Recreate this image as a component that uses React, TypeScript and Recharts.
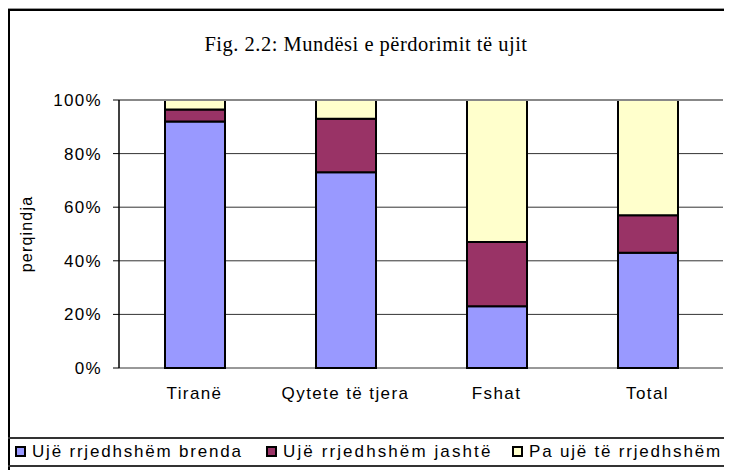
import React from 'react';
import { BarChart, Bar, XAxis, YAxis, CartesianGrid, Legend, ReferenceLine } from 'recharts';

const categories = ['Tiranë', 'Qytete të tjera', 'Fshat', 'Total'];
const inside = [92, 73, 23, 43];
const outside = [4.5, 20, 24, 14];
const none = [3.5, 7, 53, 43];
const yTicks = [0, 20, 40, 60, 80, 100];
const seriesKeys = ['brenda', 'jashte', 'pa'];
const seriesNames = ['Ujë rrjedhshëm brenda', 'Ujë rrjedhshëm jashtë', 'Pa ujë të rrjedhshëm'];
const seriesColors = ['#9999FF', '#993366', '#FFFFCC'];
const title = 'Fig. 2.2: Mundësi e përdorimit të ujit';
const yLabel = 'perqindja';

const data = categories.map((name, i) => ({
  name,
  brenda: inside[i],
  jashte: outside[i],
  pa: none[i],
}));

const sans = '"Liberation Sans", Arial, sans-serif';
const legendLefts = [7, 258, 504];
const legendSpacing = [1.8, 2.1, 1.8];

const LegendBox = () => {
  return (
    <div
      style={{
        position: 'relative',
        boxSizing: 'border-box',
        width: 718,
        height: 30,
        borderTop: '2px solid #333',
        borderRight: '2px solid #333',
        borderBottom: '2px solid #333',
        fontFamily: sans,
        fontSize: 17,
        color: '#000',
      }}
    >
      {seriesNames.map((name, i) => (
        <div key={i} style={{ position: 'absolute', left: legendLefts[i], top: 3, whiteSpace: 'nowrap', display: 'flex', alignItems: 'center', lineHeight: '19px', letterSpacing: legendSpacing[i] }}>
          <span
            style={{
              display: 'inline-block',
              boxSizing: 'border-box',
              width: 11,
              height: 11,
              background: seriesColors[i],
              border: '2px solid #000',
              marginRight: 6,
            }}
          />
          <span>{name}</span>
        </div>
      ))}
    </div>
  );
};

export default function App() {
  return (
    <div style={{ position: 'relative', width: 724, height: 462, overflow: 'hidden', background: '#fff' }}>
      <div
        style={{
          position: 'absolute',
          left: 0,
          top: 1,
          width: 900,
          height: 900,
          borderTop: '2px solid #000',
          borderLeft: '2px solid #000',
          boxShadow: '-1px -1px 0 #999',
        }}
      />
      <div
        style={{
          position: 'absolute',
          left: 0,
          width: 716,
          top: 25,
          textAlign: 'center',
          fontFamily: '"Liberation Serif", "Times New Roman", serif',
          fontSize: 20.5,
          letterSpacing: 0.5,
          color: '#000',
        }}
      >
        {title}
      </div>
      <BarChart
        width={724}
        height={462}
        data={data}
        margin={{ top: 92, right: 9, bottom: 72, left: 5 }}
        barSize={60}
        style={{ position: 'absolute', left: 0, top: 0 }}
      >
        <CartesianGrid xAxisId="cat" vertical={false} stroke="#333" strokeWidth={1} />
        <XAxis
          xAxisId="num"
          type="number"
          domain={[0, 4]}
          ticks={[0, 1, 2, 3, 4]}
          tick={false}
          tickSize={5}
          height={0}
          allowDataOverflow
          axisLine={{ stroke: '#000', strokeWidth: 1.5 }}
          tickLine={{ stroke: '#000' }}
        />
        <XAxis
          xAxisId="cat"
          dataKey="name"
          tickLine={false}
          axisLine={false}
          height={30}
          tickSize={5}
          tickMargin={14}
          interval={0}
          tick={{ fill: '#000', fontSize: 17, fontFamily: sans, letterSpacing: 1.4 }}
        />
        <YAxis
          width={106}
          domain={[0, 100]}
          ticks={yTicks}
          tickFormatter={(v: number) => `${v}%`}
          tickSize={6}
          tickMargin={11}
          axisLine={{ stroke: '#000', strokeWidth: 1.5 }}
          tickLine={{ stroke: '#000' }}
          tick={{ fill: '#000', fontSize: 17, fontFamily: sans, letterSpacing: 1.3 }}
          label={{
            value: yLabel,
            angle: -90,
            position: 'insideLeft',
            offset: 13,
            style: { textAnchor: 'middle', fill: '#000', fontSize: 16, fontFamily: sans, letterSpacing: 1.2 },
          }}
        />
        <ReferenceLine xAxisId="num" y={100} stroke="#888" strokeWidth={2} />
        <ReferenceLine xAxisId="num" x={4} stroke="#888" strokeWidth={2} />
        {seriesKeys.map((k, i) => (
          <Bar
            key={k}
            xAxisId="cat"
            dataKey={k}
            name={seriesNames[i]}
            stackId="a"
            fill={seriesColors[i]}
            stroke="#000"
            strokeWidth={2}
            isAnimationActive={false}
          />
        ))}
        <Legend
          layout="horizontal"
          verticalAlign="middle"
          align="center"
          content={<LegendBox />}
          wrapperStyle={{ top: 429, left: 0, width: 718, height: 30 }}
        />
      </BarChart>
    </div>
  );
}
